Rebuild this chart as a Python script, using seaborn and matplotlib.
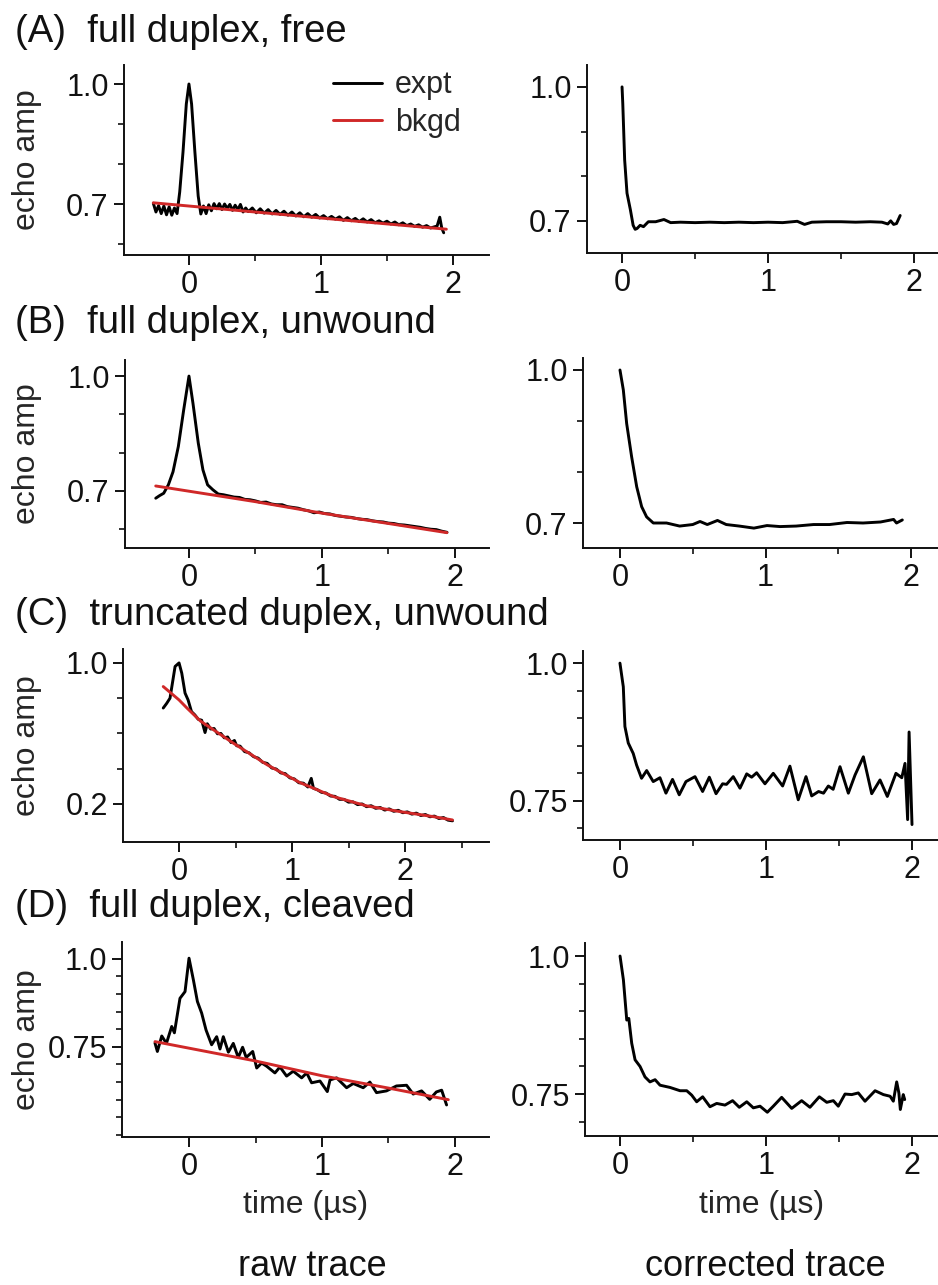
import matplotlib
matplotlib.use("Agg")
import matplotlib.pyplot as plt
import seaborn as sns
from matplotlib.lines import Line2D

sns.set_style("ticks")
plt.rcParams['font.family'] = ['Liberation Sans', 'DejaVu Sans']

# ---------------- data ----------------
# (A) full duplex, free
a_raw_t = [-0.27, -0.25, -0.23, -0.21, -0.19, -0.17, -0.15, -0.13, -0.11, -0.09, -0.07, -0.045, -0.02, 0.0,
           0.02, 0.045, 0.07, 0.09, 0.11, 0.13, 0.15, 0.17, 0.19, 0.21, 0.23, 0.25, 0.27, 0.29, 0.31, 0.33,
           0.35, 0.37, 0.39, 0.41, 0.43, 0.45, 0.48, 0.51, 0.54, 0.57, 0.60, 0.63, 0.66, 0.69, 0.72, 0.75,
           0.78, 0.81, 0.84, 0.87, 0.90, 0.93, 0.96, 0.99, 1.02, 1.05, 1.08, 1.11, 1.14, 1.17, 1.20, 1.23,
           1.26, 1.29, 1.32, 1.35, 1.38, 1.41, 1.44, 1.47, 1.50, 1.53, 1.56, 1.59, 1.62, 1.65, 1.68, 1.71,
           1.74, 1.77, 1.80, 1.83, 1.86, 1.88, 1.90, 1.915, 1.93]
a_raw_y = [0.702, 0.680, 0.696, 0.676, 0.695, 0.673, 0.693, 0.672, 0.690, 0.676, 0.730, 0.830, 0.950, 1.000,
           0.950, 0.830, 0.720, 0.675, 0.695, 0.676, 0.698, 0.683, 0.701, 0.688, 0.701, 0.686, 0.700, 0.689,
           0.699, 0.684, 0.697, 0.686, 0.699, 0.680, 0.690, 0.681, 0.690, 0.678, 0.688, 0.677, 0.686, 0.675,
           0.684, 0.674, 0.682, 0.672, 0.680, 0.670, 0.678, 0.668, 0.676, 0.667, 0.674, 0.665, 0.671, 0.663,
           0.669, 0.662, 0.668, 0.659, 0.666, 0.658, 0.664, 0.656, 0.663, 0.655, 0.661, 0.653, 0.658, 0.652,
           0.657, 0.650, 0.655, 0.648, 0.653, 0.646, 0.650, 0.644, 0.648, 0.642, 0.646, 0.640, 0.643, 0.645,
           0.667, 0.640, 0.628]
a_bkg_t = [-0.27, 0.5, 1.2, 1.95]
a_bkg_y = [0.703, 0.680, 0.659, 0.637]
a_cor_t = [0.0, 0.005, 0.018, 0.034, 0.057, 0.076, 0.09, 0.103, 0.124, 0.147, 0.18, 0.23, 0.287, 0.333,
           0.4, 0.5, 0.6, 0.7, 0.8, 0.9, 1.0, 1.1, 1.2, 1.25, 1.3, 1.4, 1.5, 1.6, 1.7, 1.78, 1.82, 1.84,
           1.86, 1.88, 1.905]
a_cor_y = [1.000, 0.963, 0.836, 0.762, 0.725, 0.690, 0.681, 0.683, 0.690, 0.687, 0.698, 0.698, 0.703, 0.696,
           0.697, 0.696, 0.697, 0.696, 0.697, 0.696, 0.697, 0.696, 0.699, 0.692, 0.697, 0.698, 0.698, 0.697,
           0.698, 0.697, 0.693, 0.700, 0.692, 0.694, 0.712]

# (B) full duplex, unwound
b_raw_t = [-0.25, -0.22, -0.19, -0.155, -0.12, -0.08, -0.04, 0.0, 0.03, 0.07, 0.105, 0.14, 0.18, 0.22,
           0.26, 0.30, 0.34, 0.38, 0.42, 0.46, 0.50, 0.54, 0.58, 0.62, 0.66, 0.70, 0.74, 0.78, 0.82, 0.86,
           0.90, 0.94, 0.98, 1.02, 1.06, 1.10, 1.14, 1.18, 1.22, 1.26, 1.30, 1.34, 1.38, 1.42, 1.46, 1.50,
           1.54, 1.58, 1.62, 1.66, 1.70, 1.74, 1.78, 1.82, 1.86, 1.90, 1.94]
b_raw_y = [0.681, 0.688, 0.694, 0.716, 0.750, 0.816, 0.911, 1.000, 0.929, 0.825, 0.755, 0.716, 0.703, 0.692,
           0.690, 0.687, 0.684, 0.683, 0.678, 0.677, 0.674, 0.670, 0.671, 0.666, 0.664, 0.664, 0.659, 0.657,
           0.655, 0.651, 0.648, 0.643, 0.645, 0.641, 0.640, 0.636, 0.634, 0.632, 0.631, 0.628, 0.626, 0.625,
           0.622, 0.620, 0.619, 0.616, 0.615, 0.612, 0.611, 0.609, 0.607, 0.605, 0.602, 0.600, 0.599, 0.595,
           0.592]
b_bkg_t = [-0.25, 0.5, 1.0, 1.5, 1.94]
b_bkg_y = [0.713, 0.672, 0.642, 0.615, 0.591]
b_cor_t = [0.0, 0.023, 0.046, 0.08, 0.115, 0.149, 0.183, 0.229, 0.32, 0.41, 0.5, 0.55, 0.6, 0.67, 0.73,
           0.82, 0.92, 1.01, 1.1, 1.21, 1.33, 1.44, 1.56, 1.67, 1.79, 1.88, 1.9, 1.94]
b_cor_y = [1.000, 0.961, 0.895, 0.830, 0.771, 0.732, 0.712, 0.700, 0.700, 0.694, 0.697, 0.703, 0.697, 0.705,
           0.697, 0.694, 0.690, 0.695, 0.693, 0.694, 0.697, 0.697, 0.701, 0.700, 0.702, 0.707, 0.700, 0.706]

# (C) truncated duplex, unwound
c_raw_t = [-0.14, -0.11, -0.08, -0.055, -0.035, 0.0, 0.024, 0.053, 0.08, 0.11, 0.14, 0.17, 0.20, 0.23,
           0.25, 0.28, 0.31, 0.34, 0.37, 0.40, 0.43, 0.46, 0.49, 0.51, 0.54, 0.58, 0.62, 0.66, 0.70, 0.74,
           0.78, 0.82, 0.86, 0.90, 0.94, 0.98, 1.02, 1.06, 1.10, 1.14, 1.17, 1.19, 1.22, 1.26, 1.30, 1.34,
           1.38, 1.42, 1.46, 1.50, 1.54, 1.58, 1.62, 1.66, 1.70, 1.74, 1.78, 1.82, 1.86, 1.90, 1.94, 1.98,
           2.02, 2.06, 2.10, 2.14, 2.18, 2.22, 2.26, 2.30, 2.34, 2.38, 2.42]
c_raw_y = [0.744, 0.770, 0.800, 0.900, 0.980, 1.000, 0.942, 0.829, 0.790, 0.724, 0.705, 0.680, 0.675, 0.605,
           0.655, 0.625, 0.628, 0.598, 0.600, 0.575, 0.580, 0.548, 0.560, 0.530, 0.528, 0.497, 0.490, 0.468,
           0.460, 0.436, 0.430, 0.404, 0.398, 0.376, 0.372, 0.348, 0.342, 0.320, 0.318, 0.296, 0.345, 0.288,
           0.282, 0.266, 0.262, 0.245, 0.243, 0.226, 0.226, 0.210, 0.212, 0.196, 0.200, 0.184, 0.190, 0.175,
           0.180, 0.165, 0.172, 0.158, 0.164, 0.150, 0.155, 0.142, 0.148, 0.134, 0.140, 0.127, 0.131, 0.117,
           0.123, 0.108, 0.104]
c_bkg_t = [-0.14, 0.0, 0.07, 0.19, 0.48, 0.78, 1.07, 1.37, 1.66, 1.96, 2.25, 2.42]
c_bkg_y = [0.866, 0.790, 0.744, 0.670, 0.545, 0.422, 0.321, 0.241, 0.189, 0.156, 0.128, 0.109]
c_cor_t = [0.0, 0.023, 0.034, 0.057, 0.091, 0.114, 0.148, 0.183, 0.228, 0.274, 0.315, 0.36, 0.406, 0.452,
           0.514, 0.566, 0.612, 0.658, 0.703, 0.73, 0.776, 0.822, 0.868, 0.902, 0.936, 0.993, 1.05, 1.114,
           1.164, 1.221, 1.274, 1.313, 1.36, 1.394, 1.427, 1.46, 1.507, 1.564, 1.61, 1.667, 1.724, 1.781,
           1.831, 1.89, 1.93, 1.952, 1.97, 1.98, 2.0]
c_cor_y = [1.000, 0.957, 0.885, 0.855, 0.836, 0.815, 0.791, 0.805, 0.785, 0.792, 0.764, 0.789, 0.761, 0.785,
           0.794, 0.767, 0.793, 0.763, 0.781, 0.780, 0.794, 0.773, 0.799, 0.793, 0.801, 0.781, 0.800, 0.777,
           0.813, 0.752, 0.794, 0.759, 0.767, 0.764, 0.777, 0.771, 0.812, 0.764, 0.797, 0.830, 0.763, 0.788,
           0.758, 0.800, 0.792, 0.818, 0.716, 0.875, 0.707]

# (D) full duplex, cleaved
d_raw_t = [-0.256, -0.238, -0.205, -0.17, -0.13, -0.11, -0.068, -0.03, 0.0, 0.033, 0.063, 0.095, 0.128,
           0.17, 0.208, 0.233, 0.258, 0.296, 0.333, 0.37, 0.403, 0.43, 0.479, 0.509, 0.546, 0.584, 0.646,
           0.684, 0.734, 0.784, 0.847, 0.885, 0.922, 0.985, 1.04, 1.06, 1.11, 1.185, 1.235, 1.31, 1.36,
           1.41, 1.485, 1.56, 1.636, 1.686, 1.749, 1.81, 1.86, 1.9, 1.937]
d_raw_y = [0.761, 0.737, 0.781, 0.760, 0.808, 0.790, 0.888, 0.907, 1.002, 0.940, 0.879, 0.846, 0.798,
           0.756, 0.779, 0.744, 0.779, 0.735, 0.760, 0.720, 0.749, 0.720, 0.737, 0.690, 0.704, 0.695, 0.676,
           0.693, 0.667, 0.681, 0.662, 0.676, 0.648, 0.653, 0.623, 0.656, 0.662, 0.634, 0.646, 0.634, 0.650,
           0.620, 0.625, 0.639, 0.641, 0.616, 0.625, 0.601, 0.622, 0.627, 0.585]
d_bkg_t = [-0.256, 0.5, 1.0, 1.5, 1.95]
d_bkg_y = [0.765, 0.710, 0.668, 0.633, 0.600]
d_cor_t = [0.0, 0.023, 0.046, 0.06, 0.08, 0.103, 0.137, 0.171, 0.205, 0.24, 0.274, 0.342, 0.411, 0.457,
           0.491, 0.525, 0.566, 0.616, 0.662, 0.719, 0.771, 0.817, 0.868, 0.913, 0.959, 1.009, 1.05, 1.107,
           1.176, 1.244, 1.301, 1.365, 1.416, 1.461, 1.495, 1.541, 1.587, 1.632, 1.678, 1.747, 1.804, 1.85,
           1.872, 1.895, 1.91, 1.92, 1.94, 1.95]
d_cor_y = [1.000, 0.957, 0.884, 0.887, 0.842, 0.812, 0.800, 0.781, 0.772, 0.776, 0.766, 0.762, 0.756, 0.756,
           0.748, 0.736, 0.745, 0.727, 0.733, 0.730, 0.738, 0.726, 0.736, 0.725, 0.728, 0.717, 0.728, 0.744,
           0.724, 0.738, 0.726, 0.745, 0.735, 0.738, 0.728, 0.750, 0.749, 0.752, 0.737, 0.756, 0.749, 0.746,
           0.737, 0.772, 0.752, 0.722, 0.749, 0.740]

titles = ["(A)  full duplex, free", "(B)  full duplex, unwound",
          "(C)  truncated duplex, unwound", "(D)  full duplex, cleaved"]
x_ticks = [0, 1, 2]
x_tick_labels = ["0", "1", "2"]
legend_labels = ["expt", "bkgd"]
ylabel = "echo amp"
xlabel = "time (\u00b5s)"
col_labels = ["raw trace", "corrected trace"]

raw_t = [a_raw_t, b_raw_t, c_raw_t, d_raw_t]
raw_y = [a_raw_y, b_raw_y, c_raw_y, d_raw_y]
bkg_t = [a_bkg_t, b_bkg_t, c_bkg_t, d_bkg_t]
bkg_y = [a_bkg_y, b_bkg_y, c_bkg_y, d_bkg_y]
cor_t = [a_cor_t, b_cor_t, c_cor_t, d_cor_t]
cor_y = [a_cor_y, b_cor_y, c_cor_y, d_cor_y]

left_major = [[0.7, 1.0], [0.7, 1.0], [0.2, 1.0], [0.75, 1.0]]
left_minor = [[0.6, 0.8, 0.9], [0.6, 0.8, 0.9], [0.4, 0.6, 0.8],
              [0.5, 0.55, 0.6, 0.65, 0.7, 0.8, 0.85, 0.9, 0.95]]
right_major = [[0.7, 1.0], [0.7, 1.0], [0.75, 1.0], [0.75, 1.0]]
right_minor = [[0.8, 0.9], [0.8, 0.9], [0.7, 0.8, 0.85, 0.9, 0.95], [0.7, 0.8, 0.85, 0.9, 0.95]]
left_xminor = [[0.5, 1.5], [0.5, 1.5], [0.5, 1.5, 2.5], [0.5, 1.5]]

# ---------------- layout (pixels) ----------------
W, H = 938, 1285
left_boxes = [(124, 489, 65, 255), (125, 489, 360, 548), (123, 489, 649, 842), (122, 489, 942, 1137)]
right_boxes = [(587, 938, 65, 253), (583, 938, 358, 548), (583, 938, 651, 840), (585, 938, 943, 1136)]
left_xlim = [(-0.492, 2.273), (-0.481, 2.256), (-0.496, 2.743), (-0.504, 2.256)]
left_ylim = [(0.5725, 1.0475), (0.551, 1.042), (-0.016, 1.079), (0.494, 1.048)]
right_xlim = [(-0.240, 2.164), (-0.254, 2.185), (-0.253, 2.178), (-0.240, 2.178)]
right_ylim = [(0.628, 1.049), (0.651, 1.0235), (0.679, 1.022), (0.674, 1.0236)]
title_baselines = [42, 333, 625, 917]

RED = '#d02828'
TICK_FS = 22
LABEL_FS = 23
LW = 2.1

fig = plt.figure(figsize=(W / 100, H / 100), dpi=100)


def make_ax(box):
    l, r, t, b = box
    return fig.add_axes([l / W, 1 - b / H, (r - l) / W, (b - t) / H])


def style(ax, xlim, ylim, ymaj, ymin, xmin):
    ax.set_xlim(*xlim)
    ax.set_ylim(*ylim)
    ax.set_xticks(x_ticks)
    ax.set_xticklabels(x_tick_labels)
    ax.set_xticks(xmin, minor=True)
    ax.set_yticks(ymaj)
    ax.set_yticklabels([f"{v:.2f}" if v == 0.75 else f"{v:.1f}" for v in ymaj])
    ax.set_yticks(ymin, minor=True)
    for s in ['top', 'right']:
        ax.spines[s].set_visible(False)
    for s in ['left', 'bottom']:
        ax.spines[s].set_linewidth(1.4)
        ax.spines[s].set_color('#111111')
    ax.tick_params(which='major', length=7, width=1.4, labelsize=TICK_FS, colors='#111111', pad=4)
    ax.tick_params(which='minor', length=4.5, width=1.2, colors='#111111')
    ax.set_xlabel("")
    ax.set_ylabel("")


for i in range(4):
    axl = make_ax(left_boxes[i])
    sns.lineplot(x=raw_t[i], y=raw_y[i], ax=axl, color='black', lw=LW, sort=False,
                 estimator=None, legend=False)
    sns.lineplot(x=bkg_t[i], y=bkg_y[i], ax=axl, color=RED, lw=LW, sort=False,
                 estimator=None, legend=False)
    style(axl, left_xlim[i], left_ylim[i], left_major[i], left_minor[i], left_xminor[i])
    axl.set_ylabel(ylabel, fontsize=LABEL_FS)
    axl.yaxis.set_label_coords((42 - left_boxes[i][0]) / (left_boxes[i][1] - left_boxes[i][0]), 0.5)

    axr = make_ax(right_boxes[i])
    sns.lineplot(x=cor_t[i], y=cor_y[i], ax=axr, color='black', lw=LW, sort=False,
                 estimator=None, legend=False)
    style(axr, right_xlim[i], right_ylim[i], right_major[i], right_minor[i], [0.5, 1.5])

    fig.text(15 / W, 1 - title_baselines[i] / H, titles[i], fontsize=27.5, ha='left',
             va='baseline', color='#111111')

    if i == 0:
        handles = [Line2D([], [], color='black', lw=LW), Line2D([], [], color=RED, lw=LW)]
        axl.legend(handles, legend_labels, loc='upper left', bbox_to_anchor=(0.573, 0.972),
                   frameon=False, fontsize=TICK_FS, handlelength=1.6, handletextpad=0.42,
                   labelspacing=0.25, borderaxespad=0, borderpad=0)
    if i == 3:
        for ax, box in [(axl, left_boxes[i]), (axr, right_boxes[i])]:
            ax.set_xlabel(xlabel, fontsize=LABEL_FS)
            ax.xaxis.set_label_coords(0.5, (box[3] - 1190) / (box[3] - box[2]))
            ax.xaxis.label.set_va('top')

fig.text(312 / W, 1 - 1276 / H, col_labels[0], fontsize=26, ha='center', va='baseline', color='#111111')
fig.text(765 / W, 1 - 1276 / H, col_labels[1], fontsize=26, ha='center', va='baseline', color='#111111')

fig.savefig("out.png", dpi=100, facecolor='white')
